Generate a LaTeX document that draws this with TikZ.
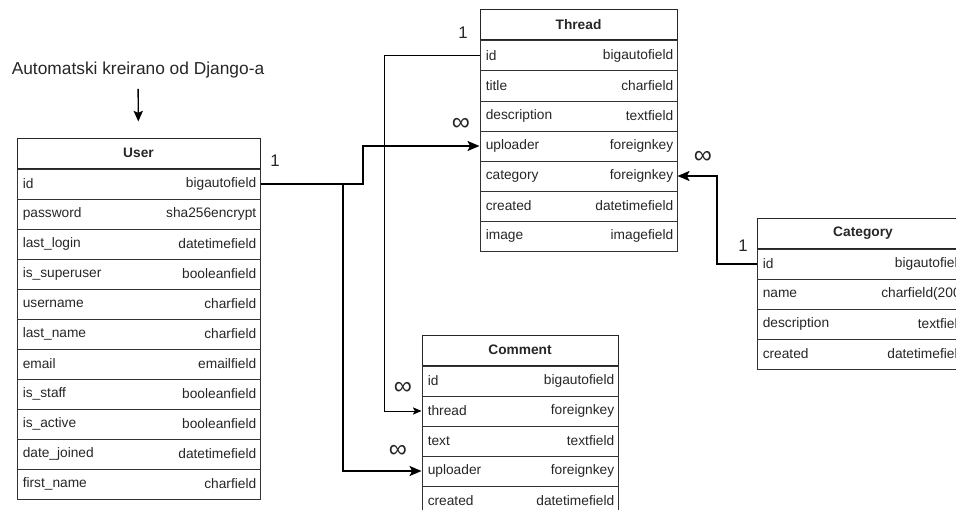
\documentclass[tikz,border=0pt]{standalone}
\usepackage{fontspec}
\setmainfont{Liberation Sans}
\usetikzlibrary{positioning,arrows.meta}

\begin{document}
\begin{tikzpicture}[
  x=0.75pt, y=-0.75pt,
  font=\fontsize{10.3}{12}\selectfont,
  text=black!85,
  hdr/.style={
    rectangle, draw=black!85, line width=0.75pt,
    minimum height=22.5pt, inner sep=0pt,
    font=\fontsize{10.3}{12}\selectfont\bfseries
  },
  fld/.style={
    rectangle, draw=black!80, line width=0.75pt,
    minimum height=22.5pt, inner sep=0pt, anchor=north
  },
  card/.style={font=\fontsize{12.6}{14}\selectfont, inner sep=0pt},
  many/.style={card, font=\fontsize{19}{21}\selectfont},
  fk/.style={line width=1.5pt, -{Stealth[length=9pt, width=7.5pt, inset=2pt]}},
  fkthin/.style={line width=0.75pt, -{Stealth[length=6.5pt, width=5.5pt, inset=1.5pt]}}
]
\useasboundingbox (0,0) rectangle (956,510);

% note above the user table
\node[font=\fontsize{13}{15}\selectfont] (note) at (138,70) {Automatski kreirano od Django-a};

% tables
\node[hdr, minimum width=182.25pt] (user) at (138.5,153) {User};
\foreach \fn/\ft [count=\i] in {id/bigautofield, password/sha256encrypt,
    last\_login/datetimefield, is\_superuser/booleanfield, username/charfield,
    last\_name/charfield, email/emailfield, is\_staff/booleanfield,
    is\_active/booleanfield, date\_joined/datetimefield, first\_name/charfield}
  \node[fld, minimum width=182.25pt, yshift={-(\i-1)*22.5pt},
        label={[anchor=west, inner sep=4.5pt]west:\fn},
        label={[anchor=east, inner sep=3pt]east:\ft}] (user-\i) at (user.south) {};

\node[hdr, minimum width=147.75pt] (thread) at (578.5,25) {Thread};
\foreach \fn/\ft [count=\i] in {id/bigautofield, title/charfield,
    description/textfield, uploader/foreignkey, category/foreignkey,
    created/datetimefield, image/imagefield}
  \node[fld, minimum width=147.75pt, yshift={-(\i-1)*22.5pt},
        label={[anchor=west, inner sep=4.5pt]west:\fn},
        label={[anchor=east, inner sep=3pt]east:\ft}] (thread-\i) at (thread.south) {};

\node[hdr, minimum width=147pt] (comment) at (520,350) {Comment};
\foreach \fn/\ft [count=\i] in {id/bigautofield, thread/foreignkey,
    text/textfield, uploader/foreignkey, created/datetimefield}
  \node[fld, minimum width=147pt, yshift={-(\i-1)*22.5pt},
        label={[anchor=west, inner sep=4.5pt]west:\fn},
        label={[anchor=east, inner sep=3pt]east:\ft}] (comment-\i) at (comment.south) {};

\node[hdr, minimum width=159pt] (category) at (863,233) {Category};
\foreach \fn/\ft [count=\i] in {id/bigautofield, name/charfield(200),
    description/textfield, created/datetimefield}
  \node[fld, minimum width=159pt, yshift={-(\i-1)*22.5pt},
        label={[anchor=west, inner sep=4.5pt]west:\fn},
        label={[anchor=east, inner sep=3pt]east:\ft}] (category-\i) at (category.south) {};

% relations
\draw[line width=1pt, -{Stealth[length=8pt, width=7pt, inset=1.5pt]},
      shorten <=4.5pt, shorten >=12pt] (note) -- (user);
\draw[fk] (user-1.east) -- ++(102,0) |- (thread-4.west);
\draw[fk] (user-1.east) -- ++(82,0) |- (comment-4.west);
\draw[fkthin] (thread-1.west) -- ++(-95,0) |- (comment-2.west);
\draw[fk] (category-1.west) -- ++(-40,0) |- (thread-5.east);

% cardinalities
\node[card] (c-user) at (275,161) {1};
\node[many] (c-thrup) at (461,124) {∞};
\node[card] (c-thrid) at (463,33) {1};
\node[many] (c-comthr) at (403,388) {∞};
\node[many] (c-comup) at (398,451) {∞};
\node[many] (c-thrcat) at (703,157) {∞};
\node[card] (c-cat) at (743,246) {1};

\end{tikzpicture}
\end{document}
